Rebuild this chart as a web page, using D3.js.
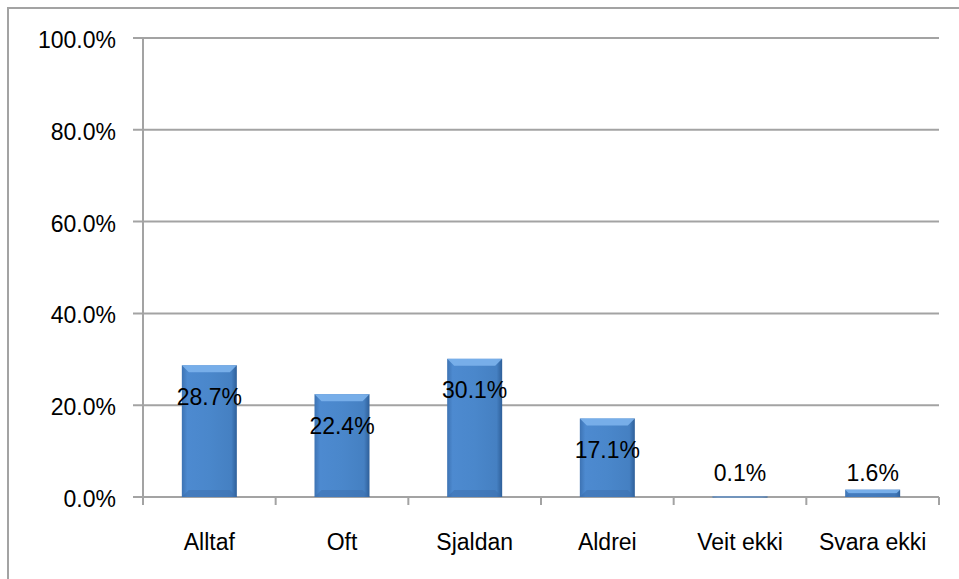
<!DOCTYPE html>
<html>
<head>
<meta charset="utf-8">
<script src="https://cdn.jsdelivr.net/npm/d3@7"></script>
<style>
  body { margin: 0; background: #fff; }
  text { font-family: "Liberation Sans", Arial, sans-serif; font-size: 23px; fill: #000; }
</style>
</head>
<body>
<div id="chart"></div>
<script>
const categories = ["Alltaf", "Oft", "Sjaldan", "Aldrei", "Veit ekki", "Svara ekki"]
const values = [0.287, 0.224, 0.301, 0.171, 0.001, 0.016]
const labels = ["28.7%", "22.4%", "30.1%", "17.1%", "0.1%", "1.6%"]
const yTicks = [0, 0.2, 0.4, 0.6, 0.8, 1.0]

const width = 959
const height = 579
const plotLeft = 143, plotRight = 939, plotTop = 38, plotBottom = 497

const svg = d3.select("#chart").append("svg")
    .attr("width", width)
    .attr("height", height)

svg.append("rect")
    .attr("width", width).attr("height", height)
    .attr("fill", "#fff")

// outer chart border
svg.append("rect")
    .attr("x", 8).attr("y", 8)
    .attr("width", 980).attr("height", 600)
    .attr("fill", "none")
    .attr("stroke", "#a3a3a3")
    .attr("stroke-width", 2)

const x = d3.scaleBand().domain(categories).range([plotLeft, plotRight]).padding(0)
const y = d3.scaleLinear().domain([0, 1]).range([plotBottom, plotTop])

const defs = svg.append("defs")
const grad = defs.append("linearGradient").attr("id", "barGrad")
    .attr("x1", "0%").attr("x2", "100%").attr("y1", "0%").attr("y2", "0%")
grad.append("stop").attr("offset", "0%").attr("stop-color", "#3d73b3")
grad.append("stop").attr("offset", "10%").attr("stop-color", "#4d8ad0")
grad.append("stop").attr("offset", "50%").attr("stop-color", "#4a87cb")
grad.append("stop").attr("offset", "90%").attr("stop-color", "#4580c2")
grad.append("stop").attr("offset", "100%").attr("stop-color", "#2e5f99")

// gridlines
svg.append("g")
    .selectAll("line")
    .data(yTicks)
    .enter()
    .append("line")
    .attr("x1", plotLeft - 10)
    .attr("x2", plotRight)
    .attr("y1", d => y(d))
    .attr("y2", d => y(d))
    .attr("stroke", "#a3a3a3")
    .attr("stroke-width", 2)

// y axis line
svg.append("line")
    .attr("x1", plotLeft).attr("x2", plotLeft)
    .attr("y1", plotTop).attr("y2", plotBottom + 8)
    .attr("stroke", "#a3a3a3").attr("stroke-width", 2)

// category ticks
const bounds = categories.map(c => x(c) + x.bandwidth())
svg.append("g")
    .selectAll("line")
    .data(bounds)
    .enter()
    .append("line")
    .attr("x1", d => d).attr("x2", d => d)
    .attr("y1", plotBottom).attr("y2", plotBottom + 8)
    .attr("stroke", "#a3a3a3").attr("stroke-width", 2)

// y labels
svg.append("g")
    .selectAll("text")
    .data(yTicks)
    .enter()
    .append("text")
    .attr("x", 116)
    .attr("y", d => y(d) + 2)
    .attr("text-anchor", "end")
    .attr("dominant-baseline", "central")
    .text(d => d3.format(".1%")(d))

// x labels
svg.append("g")
    .selectAll("text")
    .data(categories)
    .enter()
    .append("text")
    .attr("x", d => x(d) + x.bandwidth() / 2)
    .attr("y", 550)
    .attr("text-anchor", "middle")
    .text(d => d)

// bars
const bw = 55
const bars = svg.append("g")
    .selectAll("g")
    .data(values)
    .enter()
    .append("g")
    .attr("transform", (d, i) => "translate(" + (x(categories[i]) + x.bandwidth() / 2 - bw / 2) + ",0)")

bars.append("rect")
    .attr("x", 0)
    .attr("y", d => y(d))
    .attr("width", bw)
    .attr("height", d => Math.max(1, plotBottom - y(d)))
    .attr("fill", "url(#barGrad)")

// top bevel (lighter)
bars.append("path")
    .attr("d", function(d){
        const t = y(d), h = plotBottom - t
        const b = Math.min(7, h / 2)
        return "M0," + t + "L" + bw + "," + t + "L" + (bw - b) + "," + (t + b) + "L" + b + "," + (t + b) + "Z"
    })
    .attr("fill", "#7cb2ec")
    .attr("opacity", 0.9)

// bottom bevel (darker)
bars.append("path")
    .attr("d", function(d){
        const t = y(d), h = plotBottom - t
        const b = Math.min(7, h / 2)
        return "M0," + plotBottom + "L" + bw + "," + plotBottom + "L" + (bw - b) + "," + (plotBottom - b) + "L" + b + "," + (plotBottom - b) + "Z"
    })
    .attr("fill", "#3b6eab")
    .attr("opacity", 0.5)

// value labels
svg.append("g")
    .selectAll("text")
    .data(values)
    .enter()
    .append("text")
    .attr("x", (d, i) => x(categories[i]) + x.bandwidth() / 2)
    .attr("y", d => Math.min(y(d) + 31.5, 473))
    .attr("text-anchor", "middle")
    .attr("dominant-baseline", "central")
    .text((d, i) => labels[i])
</script>
</body>
</html>
